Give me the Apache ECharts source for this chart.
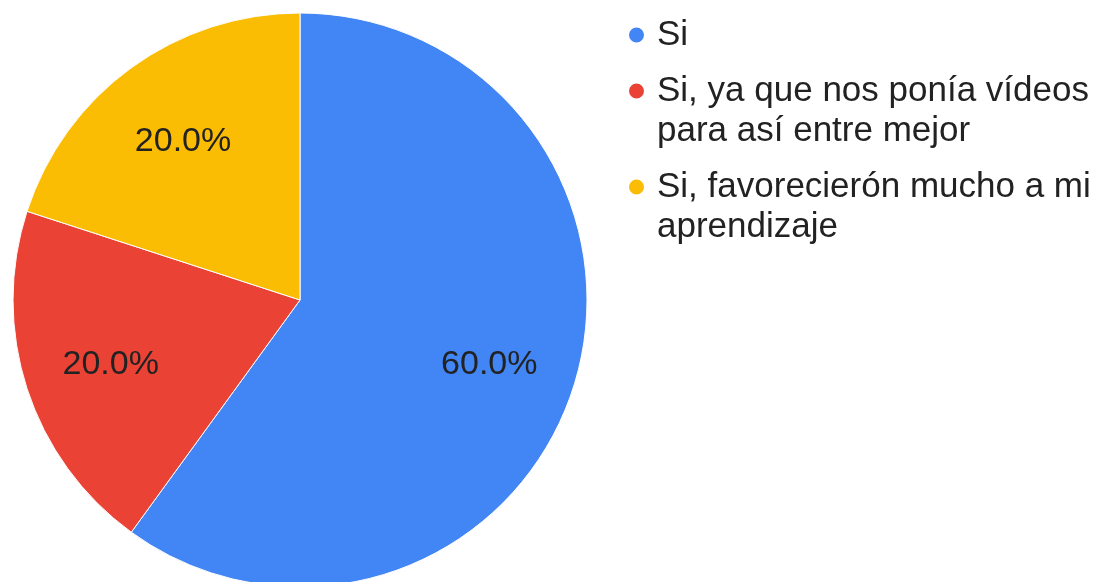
<!DOCTYPE html>
<html>
<head>
<meta charset="utf-8">
<script src="https://cdn.jsdelivr.net/npm/echarts@6/dist/echarts.min.js"></script>
<style>
  html, body { margin: 0; padding: 0; background: #ffffff; }
  #chart { width: 1112px; height: 582px; }
</style>
</head>
<body>
<div id="chart"></div>
<script>
// Respuestas de la encuesta
const categories = [
  'Si',
  'Si, ya que nos ponía vídeos para así entre mejor',
  'Si, favorecierón mucho a mi aprendizaje'
];
const counts = [3, 1, 1];
const colors = ['#4285F4', '#EA4335', '#FBBC04'];

const FONT = '"Liberation Sans", Arial, sans-serif';
const LEGEND_FONT_SIZE = 35;
const LEGEND_TEXT_WIDTH = 500;
const pieCenter = [300, 300];
const pieRadius = 287;

// Las entradas largas se parten en dos líneas; una línea vacía delante
// deja la primera línea alineada con el punto de color.
const measureCtx = document.createElement('canvas').getContext('2d');
measureCtx.font = LEGEND_FONT_SIZE + 'px ' + FONT;
function legendLabel(name) {
  return measureCtx.measureText(name).width > LEGEND_TEXT_WIDTH ? '\n' + name : name;
}

const sliceData = categories.map((name, i) => ({
  name: name,
  value: counts[i],
  itemStyle: { color: colors[i] }
}));

const chart = echarts.init(document.getElementById('chart'), null, { renderer: 'canvas' });

chart.setOption({
  animation: false,
  backgroundColor: '#ffffff',
  legend: {
    orient: 'vertical',
    left: 622,
    top: 10,
    icon: 'circle',
    itemWidth: 17,
    itemHeight: 17,
    itemGap: -24,
    selectedMode: false,
    formatter: legendLabel,
    textStyle: {
      fontFamily: FONT,
      fontSize: LEGEND_FONT_SIZE,
      color: '#222222',
      lineHeight: 40,
      width: LEGEND_TEXT_WIDTH,
      overflow: 'break',
      padding: [0, 0, 0, 7]
    },
    data: categories
  },
  series: [
    {
      type: 'pie',
      center: pieCenter,
      radius: pieRadius,
      startAngle: 90,
      clockwise: true,
      label: { show: false },
      labelLine: { show: false },
      itemStyle: { borderColor: '#ffffff', borderWidth: 1 },
      emphasis: { disabled: true },
      data: sliceData
    },
    {
      // capa transparente que sólo coloca los porcentajes
      type: 'pie',
      silent: true,
      center: pieCenter,
      radius: [106, 286],
      startAngle: 90,
      clockwise: true,
      itemStyle: { color: 'transparent' },
      labelLine: { show: false },
      label: {
        show: true,
        position: 'inside',
        offset: [0, 3],
        fontFamily: FONT,
        fontSize: 34,
        color: '#222222',
        formatter: p => p.percent.toFixed(1) + '%'
      },
      emphasis: { disabled: true },
      data: categories.map((name, i) => ({ name: name, value: counts[i] }))
    }
  ]
});
</script>
</body>
</html>
